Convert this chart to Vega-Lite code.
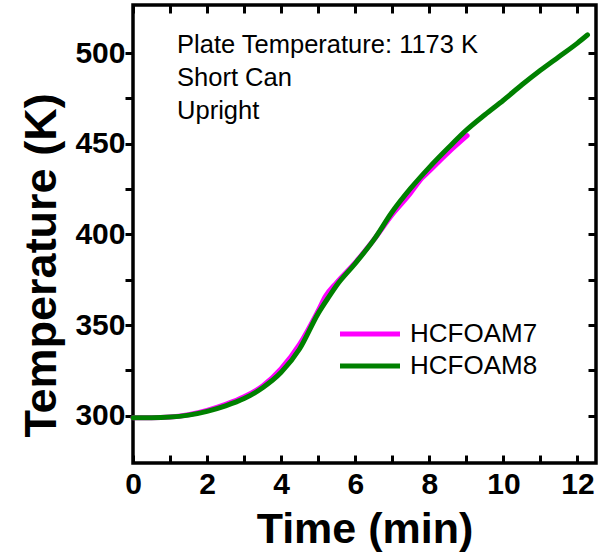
{
  "$schema": "https://vega.github.io/schema/vega-lite/v6.json",
  "width": 463,
  "height": 458,
  "autosize": "none",
  "padding": {"left": 133, "top": 5, "right": 10, "bottom": 89},
  "background": "white",
  "config": {
    "view": {"stroke": "black", "strokeWidth": 3.5},
    "font": "Liberation Sans",
    "axis": {
      "domain": false,
      "grid": false,
      "ticks": true,
      "zindex": 1,
      "tickColor": "black",
      "tickWidth": 3,
      "labelFont": "Liberation Sans",
      "labelFontWeight": "bold",
      "labelFontSize": 30,
      "labelColor": "black",
      "labelFlush": false,
      "labelOverlap": false,
      "labelBound": false,
      "titleFont": "Liberation Sans",
      "titleFontWeight": "bold",
      "titleColor": "black"
    }
  },
  "datasets": {
    "curves": [
      {"time": 0, "temp": 299, "sample": "HCFOAM7"},
      {"time": 0.5, "temp": 299, "sample": "HCFOAM7"},
      {"time": 1.0, "temp": 299.3, "sample": "HCFOAM7"},
      {"time": 1.5, "temp": 300.6, "sample": "HCFOAM7"},
      {"time": 2.0, "temp": 303, "sample": "HCFOAM7"},
      {"time": 2.5, "temp": 306.3, "sample": "HCFOAM7"},
      {"time": 3.0, "temp": 310.5, "sample": "HCFOAM7"},
      {"time": 3.5, "temp": 316.5, "sample": "HCFOAM7"},
      {"time": 4.0, "temp": 326, "sample": "HCFOAM7"},
      {"time": 4.5, "temp": 339.5, "sample": "HCFOAM7"},
      {"time": 5.0, "temp": 358, "sample": "HCFOAM7"},
      {"time": 5.2, "temp": 366, "sample": "HCFOAM7"},
      {"time": 5.5, "temp": 373.5, "sample": "HCFOAM7"},
      {"time": 6.0, "temp": 384.5, "sample": "HCFOAM7"},
      {"time": 6.5, "temp": 397, "sample": "HCFOAM7"},
      {"time": 7.0, "temp": 411, "sample": "HCFOAM7"},
      {"time": 7.5, "temp": 423, "sample": "HCFOAM7"},
      {"time": 7.7, "temp": 428.5, "sample": "HCFOAM7"},
      {"time": 7.8, "temp": 431, "sample": "HCFOAM7"},
      {"time": 8.0, "temp": 435, "sample": "HCFOAM7"},
      {"time": 8.5, "temp": 445, "sample": "HCFOAM7"},
      {"time": 9.02, "temp": 454.5, "sample": "HCFOAM7"},
      {"time": 0, "temp": 299, "sample": "HCFOAM8"},
      {"time": 0.5, "temp": 299, "sample": "HCFOAM8"},
      {"time": 1.0, "temp": 299.3, "sample": "HCFOAM8"},
      {"time": 1.5, "temp": 300.4, "sample": "HCFOAM8"},
      {"time": 2.0, "temp": 302.5, "sample": "HCFOAM8"},
      {"time": 2.5, "temp": 305.5, "sample": "HCFOAM8"},
      {"time": 3.0, "temp": 309.5, "sample": "HCFOAM8"},
      {"time": 3.5, "temp": 315.5, "sample": "HCFOAM8"},
      {"time": 4.0, "temp": 324, "sample": "HCFOAM8"},
      {"time": 4.5, "temp": 337, "sample": "HCFOAM8"},
      {"time": 5.0, "temp": 356.5, "sample": "HCFOAM8"},
      {"time": 5.3, "temp": 366, "sample": "HCFOAM8"},
      {"time": 5.5, "temp": 372, "sample": "HCFOAM8"},
      {"time": 6.0, "temp": 384, "sample": "HCFOAM8"},
      {"time": 6.5, "temp": 397, "sample": "HCFOAM8"},
      {"time": 7.0, "temp": 412.5, "sample": "HCFOAM8"},
      {"time": 7.5, "temp": 425.5, "sample": "HCFOAM8"},
      {"time": 8.0, "temp": 437, "sample": "HCFOAM8"},
      {"time": 8.5, "temp": 447.5, "sample": "HCFOAM8"},
      {"time": 9.0, "temp": 457.5, "sample": "HCFOAM8"},
      {"time": 9.5, "temp": 466, "sample": "HCFOAM8"},
      {"time": 10.0, "temp": 474, "sample": "HCFOAM8"},
      {"time": 10.5, "temp": 482.5, "sample": "HCFOAM8"},
      {"time": 11.0, "temp": 490.5, "sample": "HCFOAM8"},
      {"time": 11.5, "temp": 498, "sample": "HCFOAM8"},
      {"time": 12.0, "temp": 505.5, "sample": "HCFOAM8"},
      {"time": 12.27, "temp": 510, "sample": "HCFOAM8"}
    ],
    "notes": [
      {"time": 1.19, "temp": 500, "note": "Plate Temperature: 1173 K"},
      {"time": 1.19, "temp": 482, "note": "Short Can"},
      {"time": 1.19, "temp": 463.8, "note": "Upright"}
    ]
  },
  "layer": [
    {
      "data": {"name": "curves"},
      "mark": {"type": "line", "interpolate": "monotone", "strokeWidth": 5, "strokeCap": "round"},
      "encoding": {
        "x": {
          "field": "time", "type": "quantitative",
          "scale": {"domain": [0, 12.5], "nice": false, "zero": false},
          "axis": {
            "orient": "bottom",
            "values": [0, 1, 2, 3, 4, 5, 6, 7, 8, 9, 10, 11, 12],
            "format": "d",
            "labelExpr": "datum.value % 2 === 0 ? datum.label : ''",
            "tickSize": -8,
            "encode": {"ticks": {"update": {"y2": {"signal": "datum.value % 2 === 0 ? -8 : -5"}}}},
            "labelPadding": 14,
            "title": "Time (min)",
            "titleFontSize": 43,
            "titleBaseline": "alphabetic",
            "titleY": 79
          }
        },
        "y": {
          "field": "temp", "type": "quantitative",
          "scale": {"domain": [274, 526.5], "nice": false, "zero": false},
          "axis": {
            "orient": "left",
            "values": [300, 325, 350, 375, 400, 425, 450, 475, 500],
            "format": "d",
            "labelExpr": "datum.value % 50 === 0 ? datum.label : ''",
            "tickSize": 8,
            "encode": {"ticks": {"update": {"x2": {"signal": "datum.value % 50 === 0 ? 8 : 5"}}}},
            "labelPadding": 0,
            "title": "Temperature (K)",
            "titleFontSize": 45,
            "titleAngle": -90,
            "titleAlign": "center",
            "titleBaseline": "alphabetic",
            "titleX": -78,
            "titleY": 260
          }
        },
        "color": {
          "field": "sample", "type": "nominal",
          "scale": {"domain": ["HCFOAM7", "HCFOAM8"], "range": ["#ff00ff", "#008000"]},
          "legend": {
            "orient": "none",
            "legendX": 224,
            "legendY": 316,
            "title": null,
            "padding": 0,
            "symbolType": "M-3,0H3",
            "symbolSize": 400,
            "symbolStrokeWidth": 5,
            "symbolFillColor": "transparent",
            "labelFont": "Liberation Sans",
            "labelFontSize": 26,
            "labelColor": "black",
            "labelOffset": 27,
            "rowPadding": 6
          }
        }
      }
    },
    {
      "data": {"name": "notes"},
      "mark": {"type": "text", "align": "left", "baseline": "alphabetic", "fontSize": 25.5, "font": "Liberation Sans", "color": "black"},
      "encoding": {
        "x": {
          "field": "time", "type": "quantitative",
          "scale": {"domain": [0, 12.5], "nice": false, "zero": false},
          "axis": {
            "orient": "top",
            "values": [0, 1, 2, 3, 4, 5, 6, 7, 8, 9, 10, 11, 12],
            "labels": false,
            "title": null,
            "tickSize": -8,
            "encode": {"ticks": {"update": {"y2": {"signal": "datum.value % 2 === 0 ? 8 : 5"}}}}
          }
        },
        "y": {
          "field": "temp", "type": "quantitative",
          "scale": {"domain": [274, 526.5], "nice": false, "zero": false},
          "axis": {
            "orient": "right",
            "values": [300, 325, 350, 375, 400, 425, 450, 475, 500],
            "labels": false,
            "title": null,
            "tickSize": -8,
            "encode": {"ticks": {"update": {"x2": {"signal": "datum.value % 50 === 0 ? -8 : -5"}}}}
          }
        },
        "text": {"field": "note", "type": "nominal"}
      }
    }
  ],
  "resolve": {"axis": {"x": "independent", "y": "independent"}}
}
